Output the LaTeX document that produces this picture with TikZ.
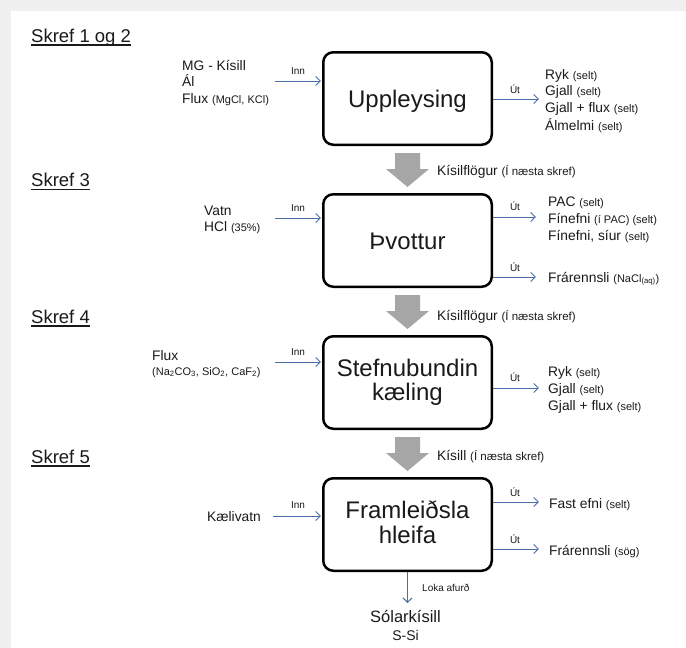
\documentclass[tikz,border=0pt]{standalone}
\usepackage{fontspec}
\setmainfont{Liberation Sans}
\usetikzlibrary{arrows.meta}
\definecolor{flowblue}{HTML}{4A6EA8}
\definecolor{blockgray}{HTML}{A6A6A6}
\definecolor{framegray}{HTML}{F0F0F0}
\definecolor{ink}{HTML}{1A1A1A}
\newcommand\smtxt[1]{{\fontsize{11}{12}\selectfont #1}}
\newcommand\nxtsm[1]{{\fontsize{11.5}{12}\selectfont #1}}
\begin{document}
\begin{tikzpicture}[x=1pt,y=-1pt,
  procbox/.style={draw=black, line width=2.5pt, rounded corners=10pt, minimum width=168.5pt, minimum height=92.5pt, inner sep=0pt, text=ink, font=\fontsize{24}{24.5}\selectfont},
  flow/.style={draw=flowblue, line width=0.9pt, -{Straight Barb[length=4.5pt,width=9pt,line width=0.9pt]}, shorten >=1.2pt},
  txt/.style={anchor=base west, inner sep=0pt, text=ink, font=\fontsize{13.8}{16}\selectfont},
  tag/.style={anchor=base, inner sep=0pt, text=ink, font=\fontsize{10}{12}\selectfont},
  skref/.style={anchor=base west, inner sep=0pt, text=ink, font=\fontsize{18.5}{20}\selectfont},
  uline/.style={draw=ink, line width=1.2pt},
  blk/.style={fill=blockgray},
  nxt/.style={anchor=base west, inner sep=0pt, text=ink, font=\fontsize{13.8}{15}\selectfont},
]
\useasboundingbox (0,0) rectangle (686,648);
\fill[framegray] (0,0) rectangle (686,648);
\fill[white] (11,11) rectangle (686,648);

% Step headings
\node[skref] (s1) at (31,42) {Skref 1 og 2};
\node[skref] (s3) at (31,186.5) {Skref 3};
\node[skref] (s4) at (31,323) {Skref 4};
\node[skref] (s5) at (31,463) {Skref 5};
\foreach \s in {s1,s3,s4,s5}
  \draw[uline] ([yshift=-3pt]\s.base west) -- ([yshift=-3pt]\s.base east);

% ---------- Step 1 and 2 ----------
\node[procbox, text height=17pt, text depth=0pt] (b1) at (407.5,98.5) {Uppleysing};
\node[txt] (i1a) at (182,70) {MG - Kísill};
\node[txt] (i1b) at (182,86) {Ál};
\node[txt] (i1c) at (182,103) {Flux \smtxt{(MgCl, KCl)}};
\coordinate (p1) at (275,81);
\draw[flow] (p1) -- (p1 -| b1.west);
\node[tag] (inn1) at (298,74) {Inn};
\coordinate (q1) at (540,99);
\draw[flow] (q1 -| b1.east) -- (q1);
\node[tag] (ut1) at (515,93) {Út};
\node[txt] (o1a) at (545,79) {Ryk \smtxt{(selt)}};
\node[txt] (o1b) at (545,95.5) {Gjall \smtxt{(selt)}};
\node[txt] (o1c) at (545,112.5) {Gjall + flux \smtxt{(selt)}};
\node[txt] (o1d) at (545,130) {Álmelmi \smtxt{(selt)}};

\fill[blk] ([xshift=-12.5pt,yshift=-7pt]b1.south) -- ++(25,0) -- ++(0,16) -- ++(9,0) -- ++(-21.5,18) -- ++(-21.5,-18) -- ++(9,0) -- cycle;
\node[nxt] (k1) at (437,175) {Kísilflögur \nxtsm{(Í næsta skref)}};

% ---------- Step 3 ----------
\node[procbox, text height=17pt, text depth=0pt] (b2) at (407.5,240.5) {Þvottur};
\node[txt] (i2a) at (204,215) {Vatn};
\node[txt] (i2b) at (204,231.5) {HCl \smtxt{(35\%)}};
\coordinate (p2) at (275,218);
\draw[flow] (p2) -- (p2 -| b2.west);
\node[tag] (inn2) at (298,211) {Inn};
\coordinate (q2) at (537,217);
\draw[flow] (q2 -| b2.east) -- (q2);
\node[tag] (ut2) at (515,210.5) {Út};
\node[txt] (o2a) at (548,206) {PAC \smtxt{(selt)}};
\node[txt] (o2b) at (548,223) {Fínefni \smtxt{(í PAC) (selt)}};
\node[txt] (o2c) at (548,240) {Fínefni,\ síur \smtxt{(selt)}};
\coordinate (q3) at (537,277);
\draw[flow] (q3 -| b2.east) -- (q3);
\node[tag] (ut3) at (515,271.5) {Út};
\node[txt] (o2d) at (548,282) {Frárennsli \smtxt{(NaCl\textsubscript{(aq)})}};

\fill[blk] ([xshift=-12.5pt,yshift=-7pt]b2.south) -- ++(25,0) -- ++(0,16) -- ++(9,0) -- ++(-21.5,18) -- ++(-21.5,-18) -- ++(9,0) -- cycle;
\node[nxt] (k2) at (437,320.5) {Kísilflögur \nxtsm{(Í næsta skref)}};

% ---------- Step 4 ----------
\node[procbox, align=center] (b3) at (407.5,382.5) {Stefnubundin\\kæling};
\node[txt] (i3a) at (152,360) {Flux};
\node[txt, font=\fontsize{11}{12}\selectfont] (i3b) at (152,375) {(Na\textsubscript{2}CO\textsubscript{3},\ SiO\textsubscript{2}, CaF\textsubscript{2})};
\coordinate (p3) at (275,362);
\draw[flow] (p3) -- (p3 -| b3.west);
\node[tag] (inn3) at (298,355) {Inn};
\coordinate (q4) at (540,388);
\draw[flow] (q4 -| b3.east) -- (q4);
\node[tag] (ut4) at (515,381.5) {Út};
\node[txt] (o3a) at (548,376) {Ryk \smtxt{(selt)}};
\node[txt] (o3b) at (548,393) {Gjall \smtxt{(selt)}};
\node[txt] (o3c) at (548,410) {Gjall + flux \smtxt{(selt)}};

\fill[blk] ([xshift=-12.5pt,yshift=-7pt]b3.south) -- ++(25,0) -- ++(0,16) -- ++(9,0) -- ++(-21.5,18) -- ++(-21.5,-18) -- ++(9,0) -- cycle;
\node[nxt] (k3) at (437,460) {Kísill \nxtsm{(Í næsta skref)}};

% ---------- Step 5 ----------
\node[procbox, align=center] (b4) at (407.5,524.5) {Framleiðsla\\hleifa\vphantom{g}};
\node[txt] (i4a) at (207,521) {Kælivatn};
\coordinate (p4) at (273,516);
\draw[flow] (p4) -- (p4 -| b4.west);
\node[tag] (inn4) at (298,508.5) {Inn};
\coordinate (q5) at (540,502);
\draw[flow] (q5 -| b4.east) -- (q5);
\node[tag] (ut5) at (515,496) {Út};
\node[txt] (o4a) at (549,508) {Fast efni \smtxt{(selt)}};
\coordinate (q6) at (540,549);
\draw[flow] (q6 -| b4.east) -- (q6);
\node[tag] (ut6) at (515,543) {Út};
\node[txt] (o4b) at (549,555) {Frárennsli \smtxt{(sög)}};

\coordinate (d4) at (407.5,603);
\draw[flow, shorten >=0pt] (b4.south) -- (d4);
\node[tag, anchor=base west] (loka) at (422,591.5) {Loka afurð};
\node[tag, font=\fontsize{16.5}{18}\selectfont] (sol) at (405.5,622.5) {Sólarkísill};
\node[tag, font=\fontsize{14}{16}\selectfont] (ssi) at (405.5,640) {S-Si};
\end{tikzpicture}
\end{document}
